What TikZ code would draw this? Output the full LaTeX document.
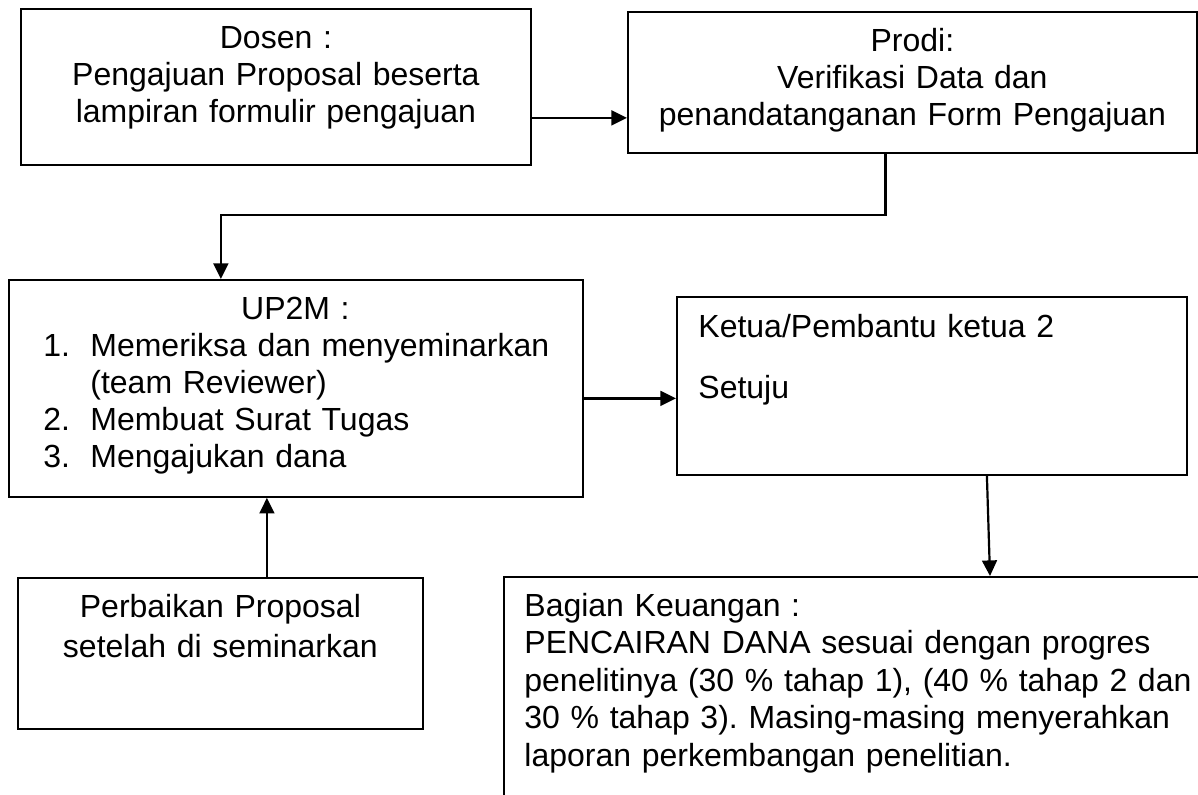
\documentclass[tikz,border=0pt]{standalone}
\usepackage{fontspec}
\setmainfont{Liberation Sans}
\usepackage{tikz}
\usetikzlibrary{arrows.meta, calc}
\frenchspacing

\begin{document}
\begin{tikzpicture}[x=0.5pt, y=-0.5pt,
  box/.style={draw, line width=0.9pt, inner sep=0pt, anchor=north west},
  txt/.style={inner sep=0pt, font=\fontsize{16}{18.5}\selectfont},
  flow/.style={line width=1.1pt, -{Triangle[length=7.8pt, width=7.4pt]}}]
  \clip (0,0) rectangle (1198,794);
  % boxes
  \node [box, minimum width=255pt, minimum height=78pt] (dosen) at (20,8) {};
  \node [box, minimum width=284.5pt, minimum height=70.5pt] (prodi) at (627,11) {};
  \node [box, minimum width=287pt, minimum height=108.5pt] (up2m) at (8,279) {};
  \node [box, minimum width=255pt, minimum height=89pt] (ketua) at (676,296) {};
  \node [box, minimum width=202.5pt, minimum height=75.5pt] (perbaikan) at (17,577) {};
  \node [box, minimum width=360pt, minimum height=120pt] (bagian) at (503,576) {};
  % texts
  \node [txt, text width=250pt, align=center, anchor=base] (dosentxt) at ($(dosen.north)+(0,40)$)
    {Dosen :\\Pengajuan Proposal beserta\\lampiran formulir pengajuan};
  \node [txt, text width=280pt, align=center, anchor=base] (proditxt) at ($(prodi.north)+(0,40)$)
    {Prodi:\\Verifikasi Data dan\\penandatanganan Form Pengajuan};
  \node [txt, text width=270pt, align=left, anchor=base west] (up2mtxt) at ($(up2m.north west)+(35,40)$)
    {\makebox[252pt]{UP2M :}\\
     \makebox[23.5pt][l]{1.}Memeriksa dan menyeminarkan\\
     \hspace*{23.5pt}(team Reviewer)\\
     \makebox[23.5pt][l]{2.}Membuat Surat Tugas\\
     \makebox[23.5pt][l]{3.}Mengajukan dana};
  \node [txt, text width=240pt, align=left, anchor=base west] (ketuatxt) at ($(ketua.north west)+(22,41)$)
    {Ketua/Pembantu ketua 2\\[12pt]Setuju};
  \node [txt, text width=200pt, align=center, anchor=base, font=\fontsize{16}{20}\selectfont] (perbaikantxt)
    at ($(perbaikan.north)+(0,40)$) {Perbaikan Proposal\\setelah di seminarkan};
  \node [txt, text width=335pt, align=left, anchor=base west, font=\fontsize{16}{18.75}\selectfont] (bagiantxt)
    at ($(bagian.north west)+(21,40)$)
    {Bagian Keuangan :\\
     PENCAIRAN DANA sesuai dengan progres\\
     penelitinya (30 \% tahap 1), (40 \% tahap 2 dan\\
     30 \% tahap 3). Masing-masing menyerahkan\\
     laporan perkembangan penelitian.};
  % connector ends
  \coordinate (dosenout) at ($(dosen.east)+(0,31)$);
  \coordinate (prodiout) at ($(prodi.south)+(-27,0)$);
  \coordinate (up2min) at ($(up2m.north)+(-75,0)$);
  \coordinate (up2mout) at ($(up2m.east)+(0,10)$);
  \coordinate (perbaikanout) at ($(perbaikan.north)+(46.5,0)$);
  \coordinate (ketuaout) at ($(ketua.south)+(55,0)$);
  \coordinate (bagianin) at ($(bagian.north west)+(487,0)$);
  % connectors
  \draw [flow] (dosenout) -- (dosenout -| prodi.west);
  \draw [flow] (prodiout) -- ++(0,61) -| (up2min);
  \draw [flow] (up2mout) -- (up2mout -| ketua.west);
  \draw [flow] (perbaikanout) -- (perbaikanout |- up2m.south);
  \draw [flow] (ketuaout) -- (bagianin);
\end{tikzpicture}
\end{document}
